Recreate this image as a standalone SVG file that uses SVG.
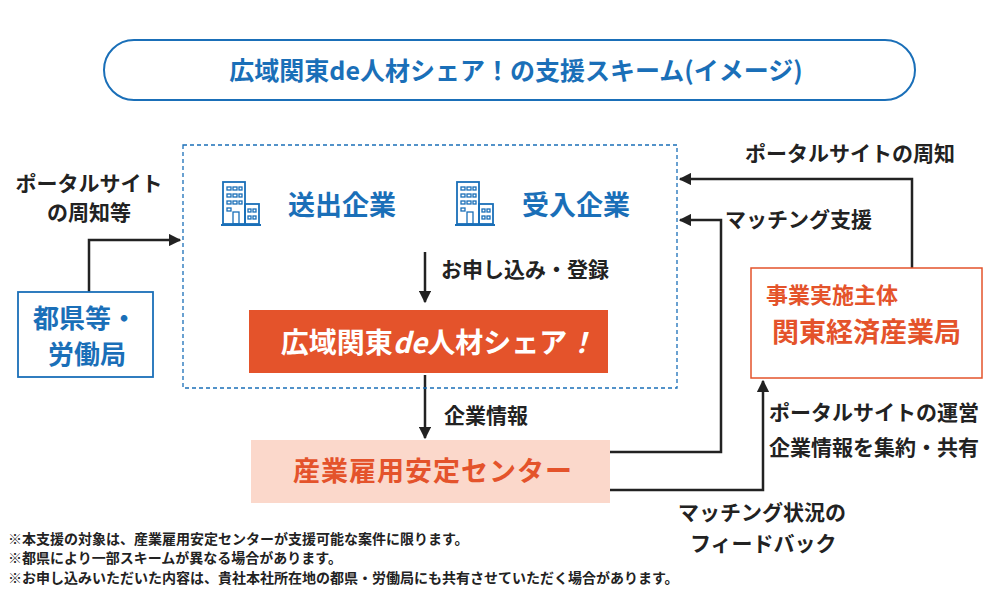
<svg xmlns="http://www.w3.org/2000/svg" width="1000" height="595" viewBox="0 0 1000 595">
<style>
text{font-family:"Noto Sans CJK JP","Noto Sans",sans-serif;font-weight:bold}
.lbl{font-size:21px;fill:#222}
.conn{fill:none;stroke:#222;stroke-width:2.5}
.blue{fill:#1a6fb8}
.ic{fill:none;stroke:#1a6fb8;stroke-width:1.8}
.note{font-size:14px;fill:#222}
</style>
<defs>
<marker id="ah" viewBox="0 0 10 10" refX="9" refY="5" markerWidth="5" markerHeight="5" orient="auto-start-reverse"><path d="M0,0L10,5L0,10z" fill="#222"/></marker>
<g id="bld">
<rect x="2" y="2" width="22" height="42" class="ic"/>
<rect x="24" y="24" width="14" height="20" class="ic"/>
<line x1="0" y1="45" x2="40" y2="45" class="ic" stroke-width="3"/>
<g fill="none" stroke="#1a6fb8" stroke-width="1.3">
<rect x="6" y="7" width="4" height="3"/><rect x="12" y="7" width="4" height="3"/><rect x="18" y="7" width="3" height="3"/>
<rect x="6" y="14" width="4" height="3"/><rect x="12" y="14" width="4" height="3"/><rect x="18" y="14" width="3" height="3"/>
<rect x="6" y="21" width="4" height="3"/><rect x="12" y="21" width="4" height="3"/><rect x="18" y="21" width="3" height="3"/>
<rect x="6" y="28" width="4" height="3"/><rect x="12" y="32" width="6" height="12"/>
<rect x="27" y="29" width="3" height="3"/><rect x="32" y="29" width="3" height="3"/>
<rect x="27" y="36" width="3" height="3"/><rect x="32" y="36" width="3" height="3"/>
</g>
</g>
</defs>
<rect width="1000" height="595" fill="#fff"/>
<g id="title">
<rect x="104" y="40" width="811" height="60" rx="30" fill="#fff" stroke="#1a6fb8" stroke-width="2"/>
<text x="516" y="80" text-anchor="middle" font-size="25" class="blue">広域関東de人材シェア！の支援スキーム(イメージ)</text>
</g>
<g id="connectors">
<polyline class="conn" points="89,292 89,240 180,240" marker-end="url(#ah)"/>
<line class="conn" x1="425" y1="252" x2="425" y2="302" marker-end="url(#ah)"/>
<line class="conn" x1="425" y1="375" x2="425" y2="438" marker-end="url(#ah)"/>
<polyline class="conn" points="610,452 721,452 721,220 680,220" marker-end="url(#ah)"/>
<polyline class="conn" points="912,268 912,179 680,179" marker-end="url(#ah)"/>
<polyline class="conn" points="610,490 763,490 763,381" marker-end="url(#ah)"/>
</g>
<g id="scope">
<rect x="183" y="145" width="494" height="243" fill="none" stroke="#1a6fb8" stroke-width="1.3" stroke-dasharray="4,3"/>
</g>
<g id="sender">
<use href="#bld" x="221" y="180"/>
<text x="288" y="215" font-size="27" class="blue">送出企業</text>
</g>
<g id="receiver">
<use href="#bld" x="455" y="180"/>
<text x="522" y="215" font-size="27" class="blue">受入企業</text>
</g>
<g id="share">
<rect x="249" y="310" width="359" height="63" fill="#e4532b"/>
<text x="438" y="353" text-anchor="middle" font-size="28" fill="#fff">広域関東<tspan font-style="italic">de</tspan>人材シェア<tspan font-style="italic">！</tspan></text>
</g>
<g id="pref">
<rect x="18" y="292" width="135" height="85" fill="#fff" stroke="#1a6fb8" stroke-width="1.8"/>
<text x="33" y="328" font-size="26" class="blue">都県等・</text>
<text x="48" y="364" font-size="26" class="blue">労働局</text>
</g>
<g id="center">
<rect x="251" y="440" width="359" height="63" fill="#fbd8cb"/>
<text x="433" y="481" text-anchor="middle" font-size="27" letter-spacing="1" fill="#e4532b">産業雇用安定センター</text>
</g>
<g id="meti">
<rect x="751" y="268" width="231" height="110" fill="#fff" stroke="#e4532b" stroke-width="1.5"/>
<text x="766" y="303" font-size="22" fill="#e4532b">事業実施主体</text>
<text x="772" y="342" font-size="27" fill="#e4532b">関東経済産業局</text>
</g>
<g id="labels">
<text x="89" y="191" text-anchor="middle" class="lbl">ポータルサイト</text>
<text x="89" y="220" text-anchor="middle" class="lbl">の周知等</text>
<text x="441" y="277" class="lbl">お申し込み・登録</text>
<text x="444" y="423" class="lbl">企業情報</text>
<text x="745" y="161" class="lbl">ポータルサイトの周知</text>
<text x="725" y="227" class="lbl">マッチング支援</text>
<text x="769" y="420" class="lbl">ポータルサイトの運営</text>
<text x="769" y="455" class="lbl">企業情報を集約・共有</text>
<text x="678" y="520" class="lbl">マッチング状況の</text>
<text x="690" y="551" class="lbl">フィードバック</text>
<text x="8" y="544" class="note">※本支援の対象は、産業雇用安定センターが支援可能な案件に限ります。</text>
<text x="8" y="563" class="note">※都県により一部スキームが異なる場合があります。</text>
<text x="8" y="583" class="note">※お申し込みいただいた内容は、貴社本社所在地の都県・労働局にも共有させていただく場合があります。</text>
</g>
</svg>
